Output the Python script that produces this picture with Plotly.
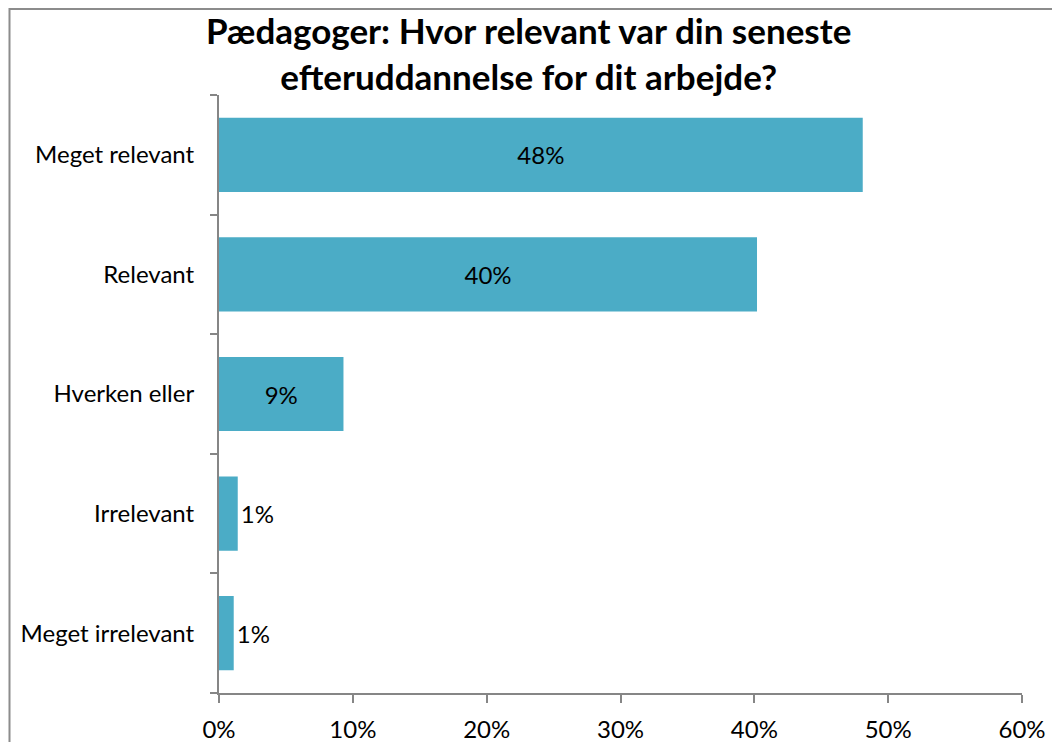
import plotly.graph_objects as go

categories = ["Meget relevant", "Relevant", "Hverken eller", "Irrelevant", "Meget irrelevant"]
values = [48.1, 40.2, 9.3, 1.4, 1.1]
labels = ["48%", "40%", "9%", "1%", "1%"]
tick_vals = [0, 10, 20, 30, 40, 50, 60]
tick_text = ["0%", "10%", "20%", "30%", "40%", "50%", "60%"]
title_text = "Pædagoger: Hvor relevant var din seneste<br>efteruddannelse for dit arbejde?"

FONT = "Lato"
AXIS = "#868686"

fig = go.Figure()
fig.add_trace(go.Bar(
    y=categories,
    x=values,
    orientation="h",
    marker=dict(color="#4BACC6", line=dict(width=0)),
    text=labels,
    textposition="auto",
    insidetextanchor="middle",
    insidetextfont=dict(color="black", size=24, family=FONT),
    outsidetextfont=dict(color="black", size=24, family=FONT),
    cliponaxis=False,
    hoverinfo="skip",
))

W, H = 1052, 742
L, T = 219, 95
R = W - 1022
B = H - 693
pw, ph = W - L - R, H - T - B

def px_x(x):
    return (x - L) / pw

def px_y(y):
    return 1 - (y - T) / ph

fig.update_layout(
    width=W, height=H,
    margin=dict(l=L, r=R, t=T, b=B, pad=0),
    paper_bgcolor="white",
    plot_bgcolor="white",
    showlegend=False,
    bargap=0.38,
    font=dict(family=FONT, color="black", size=24),
    annotations=[dict(
        text="<b>" + title_text + "</b>", showarrow=False,
        xref="paper", yref="paper",
        x=px_x(528), y=px_y(53), xanchor="center", yanchor="middle",
        font=dict(family=FONT, size=35, color="black"),
    )],
    xaxis=dict(
        range=[0, 60],
        tickvals=tick_vals,
        ticktext=tick_text,
        showgrid=False,
        zeroline=False,
        showline=True,
        linecolor=AXIS,
        linewidth=2,
        ticks="outside",
        ticklen=8,
        tickwidth=2,
        tickcolor=AXIS,
        tickfont=dict(size=24, family=FONT, color="black"),
        ticklabelstandoff=6,
        automargin=False,
    ),
    yaxis=dict(
        categoryorder="array",
        categoryarray=categories[::-1],
        autorange=False,
        range=[-0.5, 4.5],
        showgrid=False,
        zeroline=False,
        showline=True,
        linecolor=AXIS,
        linewidth=2,
        ticks="outside",
        tickson="boundaries",
        ticklen=7,
        tickwidth=2,
        tickcolor=AXIS,
        tickfont=dict(size=24, family=FONT, color="black"),
        ticklabelstandoff=18,
        automargin=False,
    ),
    shapes=[dict(
        type="rect", xref="paper", yref="paper",
        x0=px_x(9.5), x1=px_x(1070), y0=px_y(760), y1=px_y(9),
        line=dict(color="#8c8c8c", width=2),
        fillcolor="rgba(0,0,0,0)",
        layer="below",
    )],
)

# remove the default page margin so the 1052x742 figure fills the window exactly
fig.write_html(
    "out.html",
    config={"displayModeBar": False},
    post_script="document.body.style.margin='0';document.body.style.overflow='hidden';",
)
